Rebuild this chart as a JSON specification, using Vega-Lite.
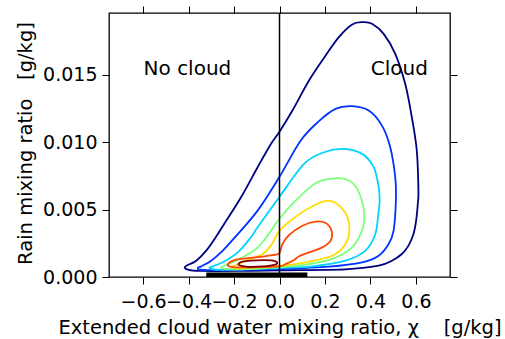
{
  "$schema": "https://vega.github.io/schema/vega-lite/v6.json",
  "width": 341,
  "height": 264,
  "autosize": "none",
  "padding": {"left": 109, "top": 13, "right": 55, "bottom": 62},
  "background": "white",
  "config": {
    "view": {"stroke": "black", "strokeWidth": 1.3},
    "font": "DejaVu Sans",
    "axis": {"domain": false, "grid": false, "tickColor": "black", "tickSize": 7, "tickWidth": 1, "labelColor": "black", "titleColor": "black", "labelFont": "DejaVu Sans", "titleFont": "DejaVu Sans", "labelFontSize": 19, "titleFontSize": 19.5, "titleFontWeight": "normal", "labelFlush": false, "labelOverlap": false}
  },
  "datasets": {
    "contours": [
      {"c":1,"i":0,"x":-0.4172,"y":0.00072},{"c":1,"i":1,"x":-0.4026,"y":0.00089},{"c":1,"i":2,"x":-0.3662,"y":0.00121},{"c":1,"i":3,"x":-0.3224,"y":0.00196},{"c":1,"i":4,"x":-0.2786,"y":0.00300},{"c":1,"i":5,"x":-0.2422,"y":0.00397},{"c":1,"i":6,"x":-0.1692,"y":0.00592},{"c":1,"i":7,"x":-0.0963,"y":0.00815},{"c":1,"i":8,"x":-0.0379,"y":0.00988},{"c":1,"i":9,"x":-0.0015,"y":0.01075},{"c":1,"i":10,"x":0.0569,"y":0.01236},{"c":1,"i":11,"x":0.1298,"y":0.01459},{"c":1,"i":12,"x":0.2028,"y":0.01644},{"c":1,"i":13,"x":0.2611,"y":0.01781},{"c":1,"i":14,"x":0.3195,"y":0.01875},{"c":1,"i":15,"x":0.3662,"y":0.01892},{"c":1,"i":16,"x":0.4070,"y":0.01880},{"c":1,"i":17,"x":0.4581,"y":0.01805},{"c":1,"i":18,"x":0.5091,"y":0.01657},{"c":1,"i":19,"x":0.5529,"y":0.01434},{"c":1,"i":20,"x":0.5821,"y":0.01186},{"c":1,"i":21,"x":0.6039,"y":0.00939},{"c":1,"i":22,"x":0.6112,"y":0.00641},{"c":1,"i":23,"x":0.6083,"y":0.00542},{"c":1,"i":24,"x":0.6010,"y":0.00419},{"c":1,"i":25,"x":0.5893,"y":0.00319},{"c":1,"i":26,"x":0.5675,"y":0.00233},{"c":1,"i":27,"x":0.5383,"y":0.00171},{"c":1,"i":28,"x":0.4945,"y":0.00121},{"c":1,"i":29,"x":0.4362,"y":0.00084},{"c":1,"i":30,"x":0.2903,"y":0.00057},{"c":1,"i":31,"x":-0.0015,"y":0.00050},{"c":1,"i":32,"x":-0.1765,"y":0.00045},{"c":1,"i":33,"x":-0.3516,"y":0.00045},{"c":1,"i":34,"x":-0.4026,"y":0.00054},
      {"c":2,"i":0,"x":-0.3589,"y":0.00067},{"c":2,"i":1,"x":-0.3443,"y":0.00079},{"c":2,"i":2,"x":-0.3005,"y":0.00121},{"c":2,"i":3,"x":-0.2495,"y":0.00196},{"c":2,"i":4,"x":-0.1984,"y":0.00290},{"c":2,"i":5,"x":-0.0963,"y":0.00493},{"c":2,"i":6,"x":-0.0015,"y":0.00740},{"c":2,"i":7,"x":0.0934,"y":0.01013},{"c":2,"i":8,"x":0.1736,"y":0.01157},{"c":2,"i":9,"x":0.2465,"y":0.01248},{"c":2,"i":10,"x":0.3166,"y":0.01268},{"c":2,"i":11,"x":0.3924,"y":0.01236},{"c":2,"i":12,"x":0.4508,"y":0.01124},{"c":2,"i":13,"x":0.4872,"y":0.00963},{"c":2,"i":14,"x":0.5091,"y":0.00740},{"c":2,"i":15,"x":0.5120,"y":0.00567},{"c":2,"i":16,"x":0.5018,"y":0.00344},{"c":2,"i":17,"x":0.4799,"y":0.00245},{"c":2,"i":18,"x":0.4362,"y":0.00158},{"c":2,"i":19,"x":0.3632,"y":0.00109},{"c":2,"i":20,"x":0.2174,"y":0.00077},{"c":2,"i":21,"x":-0.0015,"y":0.00059},{"c":2,"i":22,"x":-0.1765,"y":0.00052},{"c":2,"i":23,"x":-0.3370,"y":0.00052},
      {"c":3,"i":0,"x":-0.3078,"y":0.00067},{"c":3,"i":1,"x":-0.2932,"y":0.00079},{"c":3,"i":2,"x":-0.2495,"y":0.00109},{"c":3,"i":3,"x":-0.1838,"y":0.00183},{"c":3,"i":4,"x":-0.1255,"y":0.00295},{"c":3,"i":5,"x":-0.0963,"y":0.00369},{"c":3,"i":6,"x":-0.0015,"y":0.00592},{"c":3,"i":7,"x":0.1079,"y":0.00840},{"c":3,"i":8,"x":0.1955,"y":0.00926},{"c":3,"i":9,"x":0.2830,"y":0.00951},{"c":3,"i":10,"x":0.3632,"y":0.00914},{"c":3,"i":11,"x":0.4143,"y":0.00815},{"c":3,"i":12,"x":0.4362,"y":0.00666},{"c":3,"i":13,"x":0.4406,"y":0.00567},{"c":3,"i":14,"x":0.4362,"y":0.00493},{"c":3,"i":15,"x":0.4216,"y":0.00319},{"c":3,"i":16,"x":0.3778,"y":0.00196},{"c":3,"i":17,"x":0.2903,"y":0.00121},{"c":3,"i":18,"x":0.1444,"y":0.00079},{"c":3,"i":19,"x":-0.0015,"y":0.00067},{"c":3,"i":20,"x":-0.1765,"y":0.00057},{"c":3,"i":21,"x":-0.2786,"y":0.00054},
      {"c":4,"i":0,"x":-0.2567,"y":0.00072},{"c":4,"i":1,"x":-0.2349,"y":0.00089},{"c":4,"i":2,"x":-0.1765,"y":0.00134},{"c":4,"i":3,"x":-0.1036,"y":0.00208},{"c":4,"i":4,"x":-0.0525,"y":0.00307},{"c":4,"i":5,"x":-0.0015,"y":0.00431},{"c":4,"i":6,"x":0.0788,"y":0.00580},{"c":4,"i":7,"x":0.1663,"y":0.00703},{"c":4,"i":8,"x":0.2495,"y":0.00733},{"c":4,"i":9,"x":0.3049,"y":0.00716},{"c":4,"i":10,"x":0.3414,"y":0.00654},{"c":4,"i":11,"x":0.3662,"y":0.00542},{"c":4,"i":12,"x":0.3735,"y":0.00443},{"c":4,"i":13,"x":0.3632,"y":0.00344},{"c":4,"i":14,"x":0.3195,"y":0.00220},{"c":4,"i":15,"x":0.2319,"y":0.00134},{"c":4,"i":16,"x":0.1152,"y":0.00092},{"c":4,"i":17,"x":-0.0015,"y":0.00072},{"c":4,"i":18,"x":-0.1327,"y":0.00059},{"c":4,"i":19,"x":-0.2349,"y":0.00059},
      {"c":5,"i":0,"x":-0.2086,"y":0.00077},{"c":5,"i":1,"x":-0.1911,"y":0.00089},{"c":5,"i":2,"x":-0.1473,"y":0.00121},{"c":5,"i":3,"x":-0.0744,"y":0.00171},{"c":5,"i":4,"x":-0.0379,"y":0.00233},{"c":5,"i":5,"x":-0.0015,"y":0.00339},{"c":5,"i":6,"x":0.0496,"y":0.00419},{"c":5,"i":7,"x":0.1225,"y":0.00505},{"c":5,"i":8,"x":0.2144,"y":0.00567},{"c":5,"i":9,"x":0.2830,"y":0.00493},{"c":5,"i":10,"x":0.3078,"y":0.00369},{"c":5,"i":11,"x":0.2903,"y":0.00245},{"c":5,"i":12,"x":0.2319,"y":0.00158},{"c":5,"i":13,"x":0.1152,"y":0.00109},{"c":5,"i":14,"x":-0.0015,"y":0.00082},{"c":5,"i":15,"x":-0.1327,"y":0.00069},{"c":5,"i":16,"x":-0.1911,"y":0.00064},
      {"c":6,"i":0,"x":-0.2276,"y":0.00092},{"c":6,"i":1,"x":-0.1911,"y":0.00129},{"c":6,"i":2,"x":-0.1036,"y":0.00146},{"c":6,"i":3,"x":-0.0160,"y":0.00166},{"c":6,"i":4,"x":0.0015,"y":0.00183},{"c":6,"i":5,"x":0.0131,"y":0.00245},{"c":6,"i":6,"x":0.0423,"y":0.00312},{"c":6,"i":7,"x":0.1007,"y":0.00381},{"c":6,"i":8,"x":0.1590,"y":0.00411},{"c":6,"i":9,"x":0.2028,"y":0.00401},{"c":6,"i":10,"x":0.2290,"y":0.00344},{"c":6,"i":11,"x":0.2247,"y":0.00270},{"c":6,"i":12,"x":0.1882,"y":0.00220},{"c":6,"i":13,"x":0.1298,"y":0.00183},{"c":6,"i":14,"x":0.0861,"y":0.00154},{"c":6,"i":15,"x":0.0642,"y":0.00126},{"c":6,"i":16,"x":0.0277,"y":0.00097},{"c":6,"i":17,"x":-0.0015,"y":0.00079},{"c":6,"i":18,"x":-0.1182,"y":0.00072},{"c":6,"i":19,"x":-0.2057,"y":0.00074},
      {"c":7,"i":0,"x":-0.1809,"y":0.00092},{"c":7,"i":1,"x":-0.1619,"y":0.00114},{"c":7,"i":2,"x":-0.1036,"y":0.00124},{"c":7,"i":3,"x":-0.0379,"y":0.00124},{"c":7,"i":4,"x":-0.0117,"y":0.00111},{"c":7,"i":5,"x":-0.0190,"y":0.00092},{"c":7,"i":6,"x":-0.0744,"y":0.00079},{"c":7,"i":7,"x":-0.1473,"y":0.00077}
    ]
  },
  "layer": [
    {
      "data": {"name": "contours"},
      "mark": {"type": "line", "interpolate": "cardinal-closed", "strokeWidth": 1.8},
      "encoding": {
        "x": {"field": "x", "type": "quantitative", "scale": {"domain": [-0.75, 0.75], "nice": false, "zero": false},
              "axis": {"orient": "bottom", "values": [-0.6, -0.4, -0.2, 0, 0.2, 0.4, 0.6], "format": ".1f", "labelPadding": 8, "title": "Extended cloud water mixing ratio, χ\u00a0\u00a0\u00a0\u00a0[g/kg]", "titleY": 56.5, "titleBaseline": "alphabetic"}},
        "y": {"field": "y", "type": "quantitative", "scale": {"domain": [0, 0.0196], "nice": false, "zero": false},
              "axis": {"orient": "left", "values": [0, 0.005, 0.01, 0.015], "format": ".3f", "labelPadding": 5, "title": "Rain mixing ratio\u00a0\u00a0\u00a0[g/kg]", "titleX": -78, "titleY": 130, "titleBaseline": "alphabetic", "titleAngle": -90, "titleAlign": "center"}},
        "color": {"field": "c", "type": "nominal", "legend": null, "scale": {"domain": [1, 2, 3, 4, 5, 6, 7], "range": ["#000080", "#0033ff", "#00d4ff", "#7bff7b", "#ffdd00", "#ff4800", "#800000"]}},
        "detail": {"field": "c"},
        "order": {"field": "i", "type": "quantitative"}
      }
    },
    {
      "data": {"name": "contours"},
      "mark": {"type": "point", "opacity": 0},
      "encoding": {
        "x": {"field": "x", "type": "quantitative", "scale": {"domain": [-0.75, 0.75], "nice": false, "zero": false},
              "axis": {"orient": "top", "values": [-0.6, -0.4, -0.2, 0, 0.2, 0.4, 0.6], "labels": false, "title": null}},
        "y": {"field": "y", "type": "quantitative", "scale": {"domain": [0, 0.0196], "nice": false, "zero": false},
              "axis": {"orient": "right", "values": [0, 0.005, 0.01, 0.015], "labels": false, "title": null}}
      }
    },
    {
      "data": {"values": [{"x": 0}]},
      "mark": {"type": "rule", "color": "black", "strokeWidth": 1.5},
      "encoding": {"x": {"field": "x", "type": "quantitative", "axis": null, "scale": {"domain": [-0.75, 0.75], "nice": false, "zero": false}}}
    },
    {
      "data": {"values": [{"x": -0.322, "x2": 0.1226, "y": 0, "y2": 0.00034}]},
      "mark": {"type": "rect", "color": "black"},
      "encoding": {
        "x": {"field": "x", "type": "quantitative", "axis": null, "scale": {"domain": [-0.75, 0.75], "nice": false, "zero": false}},
        "x2": {"field": "x2"},
        "y": {"field": "y", "type": "quantitative", "axis": null, "scale": {"domain": [0, 0.0196], "nice": false, "zero": false}},
        "y2": {"field": "y2"}
      }
    },
    {
      "data": {"values": [{"x": -0.405, "y": 0.01496, "t": "No cloud"}, {"x": 0.527, "y": 0.01496, "t": "Cloud"}]},
      "mark": {"type": "text", "fontSize": 20, "font": "DejaVu Sans", "align": "center", "baseline": "alphabetic", "color": "black"},
      "encoding": {
        "x": {"field": "x", "type": "quantitative", "axis": null, "scale": {"domain": [-0.75, 0.75], "nice": false, "zero": false}},
        "y": {"field": "y", "type": "quantitative", "axis": null, "scale": {"domain": [0, 0.0196], "nice": false, "zero": false}},
        "text": {"field": "t"}
      }
    }
  ],
  "resolve": {"axis": {"x": "independent", "y": "independent"}}
}
